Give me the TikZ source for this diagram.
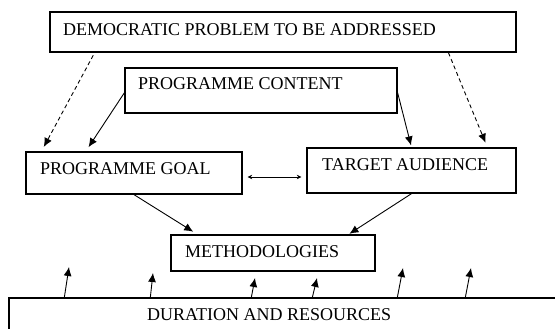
\documentclass[tikz,border=0pt]{standalone}
\usepackage{fontspec}
\setmainfont{Liberation Serif}
\usetikzlibrary{arrows.meta,calc}
\begin{document}
\begin{tikzpicture}[x=1pt,y=-1pt,
  box/.style={draw,line width=1.3pt,inner sep=0pt,minimum width=#1},
  lbl/.style={anchor=base west,inner sep=0pt,font=\fontsize{18}{20}\selectfont},
  flow/.style={line width=0.9pt,-{Latex[length=9pt,width=8pt]}},
  hint/.style={flow,dash pattern=on 4pt off 3pt},
  both/.style={line width=0.7pt,{Stealth[length=4.5pt,width=4.5pt]}-{Stealth[length=4.5pt,width=4.5pt]}}]
\useasboundingbox (0,0) rectangle (555,329);
\clip (0,0) rectangle (555,329);

% boxes
\node[box=466pt,minimum height=40pt] (dem)  at (283,32)    {};
\node[box=272pt,minimum height=45pt] (con)  at (261,90.5)  {};
\node[box=216pt,minimum height=42pt] (goal) at (134,173)   {};
\node[box=209pt,minimum height=45pt] (aud)  at (411.5,170.5) {};
\node[box=204pt,minimum height=36pt] (meth) at (273,253)   {};
\node[box=556pt,minimum height=48pt] (dur)  at (287,322)   {};

% box labels
\node[lbl] (demt)  at (63,36)   {DEMOCRATIC PROBLEM TO BE ADDRESSED};
\node[lbl] (cont)  at (138,90)  {PROGRAMME CONTENT};
\node[lbl] (goalt) at (40,175)  {PROGRAMME GOAL};
\node[lbl] (audt)  at (322,170) {TARGET AUDIENCE};
\node[lbl] (metht) at (185,257) {METHODOLOGIES};
\node[lbl] (durt)  at (147,320) {DURATION AND RESOURCES};

% problem feeds goal and audience
\draw[hint,shorten <=3pt,shorten >=5pt]
  ($(dem.south west)!0.097!(dem.south east)$) -- ($(goal.north west)!0.074!(goal.north east)$);
\draw[hint,shorten <=0pt,shorten >=5pt]
  ($(dem.south west)!0.854!(dem.south east)$) -- ($(aud.north west)!0.861!(aud.north east)$);

% content feeds goal and audience
\draw[flow,shorten >=5pt]
  ($(con.north west)!0.55!(con.south west)$) -- ($(goal.north west)!0.278!(goal.north east)$);
\draw[flow,shorten >=2pt]
  ($(con.north east)!0.55!(con.south east)$) -- (aud.north);

% goal and audience linked
\draw[both,shorten <=5pt,shorten >=5pt]
  ([yshift=-4pt]goal.east) -- ([yshift=-6.5pt]aud.west);

% both lead to methodologies
\draw[flow,shorten >=5pt]
  (goal.south) -- ($(meth.north west)!0.132!(meth.north east)$);
\draw[flow,shorten >=1pt]
  (aud.south) -- ($(meth.north west)!0.868!(meth.north east)$);

% duration and resources push upward
\coordinate (u1) at (69,267);
\coordinate (u2) at (153,273);
\coordinate (u3) at (255,278);
\coordinate (u4) at (317,278);
\coordinate (u5) at (403,268);
\coordinate (u6) at (471,268);
\foreach \dx/\t in {56/u1,142/u2,243/u3,304/u4,389/u5,457/u6}
  \draw[flow] ($(dur.north west)+(\dx,0)$) -- (\t);
\end{tikzpicture}
\end{document}
